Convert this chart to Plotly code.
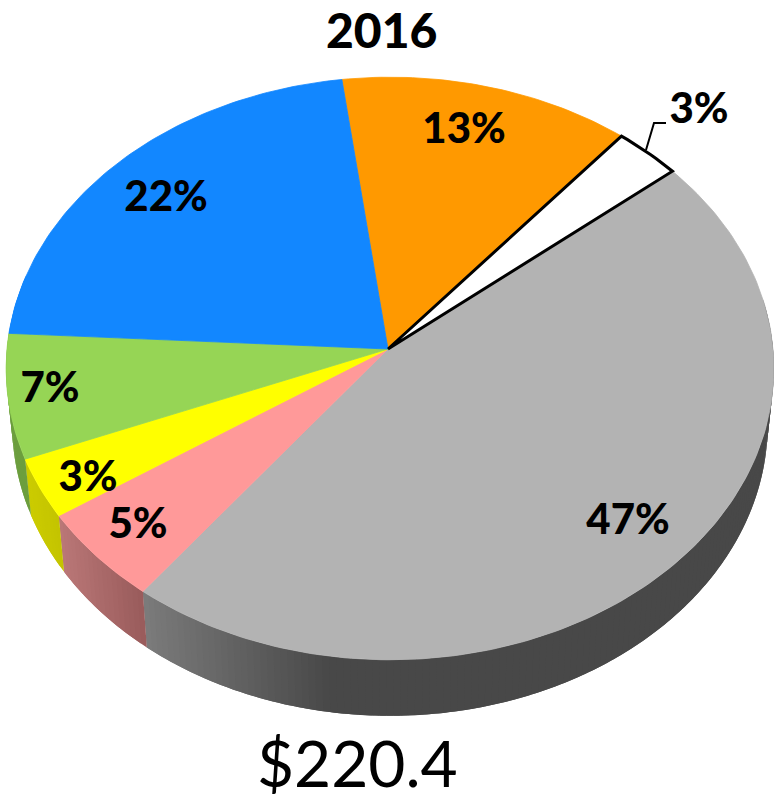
import numpy as np
import plotly.graph_objects as go

# Data
years = "2016"
total_label = "$220.4"
shares = [13.1, 3.0, 46.5, 5.2, 3.3, 6.9, 22.0]
share_labels = ["13%", "3%", "47%", "5%", "3%", "7%", "22%"]

# Styles
top_colors = ["#ff9900", "#ffffff", "#b3b3b3", "#ff9999", "#ffff00", "#96d555", "#1287ff"]
wall_left = ["#ff9900", "#ffffff", "#7c7c7c", "#bb7878", "#cccc00", "#6c9e3e", "#1287ff"]
wall_right = ["#ff9900", "#ffffff", "#484848", "#9a5c5c", "#c4c400", "#6c9e3e", "#1287ff"]
label_xy = [(464, 132), (699, 112), (628, 523), (138, 527), (88, 480), (50, 391), (166, 200)]

# Perspective projection of the pie disc onto the page
CX, CY, A, B, K = 388.0, 349.0, 383.0, 290.0, 0.0669
RIM_DX = 2.0
START_DEG, DEPTH, WALL_SHRINK = -7.7, 56.0, 0.984


def project(theta_deg):
    t = np.radians(theta_deg)
    u, v = np.sin(t), -np.cos(t)
    d = 1 - K * v
    return CX + RIM_DX + A * u / d, CY + B * v / d


def project_bottom(theta_deg):
    x, y = project(theta_deg)
    return CX + (x - CX) * WALL_SHRINK, y + DEPTH


def hex2rgb(h):
    return np.array([int(h[i:i + 2], 16) for i in (1, 3, 5)], dtype=float)


def mix(c1, c2, f):
    a = hex2rgb(c1) * (1 - f) + hex2rgb(c2) * f
    return "rgb(%d,%d,%d)" % tuple(a.round())


cum = START_DEG + np.concatenate([[0], np.cumsum(shares) * 3.6])
fig = go.Figure()

# Side walls: each strip overlaps the next so no seams show
for i, s in enumerate(shares):
    a0, a1 = cum[i], cum[i + 1]
    lo, hi = max(a0, 80), min(a1, 285)
    if hi <= lo:
        continue
    n = max(2, int((hi - lo) / 1.0))
    edges = np.linspace(lo, hi, n + 1)
    xs_all = project(edges)[0]
    xmin, xmax = xs_all.min(), xs_all.max()
    span = 190 if i == 2 else max(xmax - xmin, 1)
    for k in range(n):
        e0, e1 = edges[k], edges[min(k + 2, n)]
        arc = np.linspace(e0, e1, 4)
        xt, yt = project(arc)
        xb, yb = project_bottom(arc)
        f = min(1.0, (project(edges[k])[0] - xmin) / span)
        col = mix(wall_left[i], wall_right[i], f)
        fig.add_trace(go.Scatter(
            x=np.r_[xt, xb[::-1]], y=np.r_[yt, yb[::-1]],
            mode="none", fill="toself", fillcolor=col,
            hoverinfo="skip", showlegend=False))

# Top faces
outlined = []
for i, s in enumerate(shares):
    arc = np.linspace(cum[i], cum[i + 1], max(3, int(s * 3.6)))
    x, y = project(arc)
    px = np.r_[CX, x, CX]
    py = np.r_[CY, y, CY]
    is_white = top_colors[i] == "#ffffff"
    trace = go.Scatter(
        x=px, y=py, mode="lines", fill="toself", fillcolor=top_colors[i],
        line=dict(color="#000000" if is_white else top_colors[i], width=3 if is_white else 0.8),
        hoverinfo="skip", showlegend=False)
    if is_white:
        outlined.append(trace)
    else:
        fig.add_trace(trace)
for t in outlined:
    fig.add_trace(t)

# Share labels
fig.add_trace(go.Scatter(
    x=[p[0] for p in label_xy], y=[p[1] for p in label_xy], mode="text",
    text=share_labels, textposition="middle center",
    textfont=dict(family="Lato", size=42, color="#000000", weight=900),
    hoverinfo="skip", showlegend=False))

fig.add_annotation(x=381, y=29, text=years, showarrow=False,
                   font=dict(family="Lato", size=48, color="#000000", weight=900))
fig.add_annotation(x=357, y=762, text=total_label, showarrow=False,
                   font=dict(family="Lato", size=64, color="#000000"))
fig.add_shape(type="path", path="M 646 150 L 654 123 L 666 123",
              line=dict(color="#000000", width=2))

fig.update_layout(
    width=774, height=801, margin=dict(l=0, r=0, t=0, b=0),
    paper_bgcolor="white", plot_bgcolor="white", showlegend=False,
    xaxis=dict(range=[0, 774], visible=False, fixedrange=True),
    yaxis=dict(range=[801, 0], visible=False, fixedrange=True))
fig.write_html("out.html", post_script="document.body.style.margin='0';document.body.style.overflow='hidden';",
               config={"displayModeBar": False})
